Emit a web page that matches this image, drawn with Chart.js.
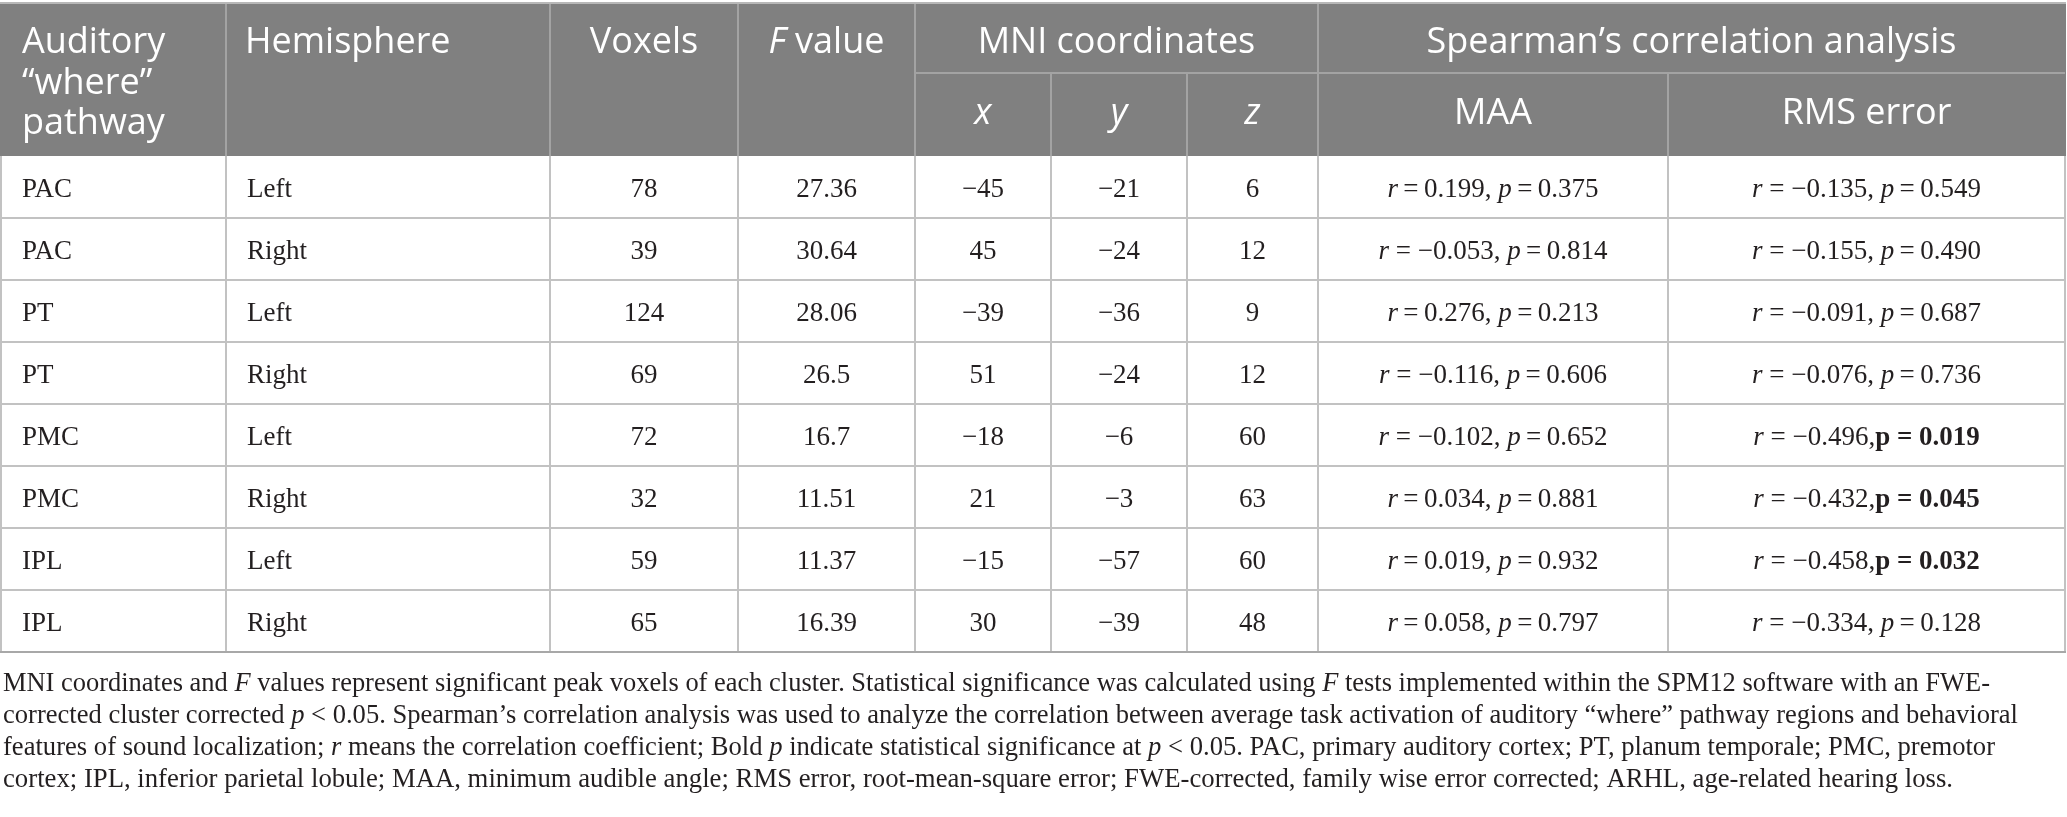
<!DOCTYPE html>
<html>
<head>
<meta charset="utf-8">
<script src="https://cdn.jsdelivr.net/npm/chart.js@4.4.1/dist/chart.umd.min.js"></script>
<style>
  html, body { margin: 0; background: #fff; }
  #wrap { width: 2067px; height: 817px; }
</style>
</head>
<body>
<div id="wrap"><canvas id="tbl"></canvas></div>
<script>
// table data
const regions = ['PAC', 'PAC', 'PT', 'PT', 'PMC', 'PMC', 'IPL', 'IPL']
const hemispheres = ['Left', 'Right', 'Left', 'Right', 'Left', 'Right', 'Left', 'Right']
const voxels = [78, 39, 124, 69, 72, 32, 59, 65]
const fValues = [27.36, 30.64, 28.06, 26.5, 16.7, 11.51, 11.37, 16.39]
const mniX = [-45, 45, -39, 51, -18, 21, -15, 30]
const mniY = [-21, -24, -36, -24, -6, -3, -57, -39]
const mniZ = [6, 12, 9, 12, 60, 63, 60, 48]
const maaR = [0.199, -0.053, 0.276, -0.116, -0.102, 0.034, 0.019, 0.058]
const maaP = [0.375, 0.814, 0.213, 0.606, 0.652, 0.881, 0.932, 0.797]
const rmsR = [-0.135, -0.155, -0.091, -0.076, -0.496, -0.432, -0.458, -0.334]
const rmsP = [0.549, 0.490, 0.687, 0.736, 0.019, 0.045, 0.032, 0.128]

const firstHeader = ['Auditory', '“where”', 'pathway']
const topHeaders = ['Hemisphere', 'Voxels', '*F* value']
const groupHeaders = ['MNI coordinates', 'Spearman’s correlation analysis']
const subHeaders = ['*x*', '*y*', '*z*', 'MAA', 'RMS error']

const notes = [
  'MNI coordinates and *F* values represent significant peak voxels of each cluster. Statistical significance was calculated using *F* tests implemented within the SPM12 software with an FWE-',
  'corrected cluster corrected *p* < 0.05. Spearman’s correlation analysis was used to analyze the correlation between average task activation of auditory “where” pathway regions and behavioral',
  'features of sound localization; *r* means the correlation coefficient; Bold *p* indicate statistical significance at *p* < 0.05. PAC, primary auditory cortex; PT, planum temporale; PMC, premotor',
  'cortex; IPL, inferior parietal lobule; MAA, minimum audible angle; RMS error, root-mean-square error; FWE-corrected, family wise error corrected; ARHL, age-related hearing loss.'
]

// layout (x scale units = px)
const colEdges = [1, 226, 550, 738, 915, 1051, 1187, 1318, 1668, 2065]
const headTop = 4
const subLine = 73
const noteEnds = [1990, 2018, 1995, 1953]

const SANS = '"Open Sans", "Noto Sans", sans-serif'
const SERIF = '"Liberation Serif", "DejaVu Serif", serif'

const minus = v => (v < 0 ? '\u2212' : '') + Math.abs(v)
const fix3 = v => (v < 0 ? '\u2212' : '') + Math.abs(v).toFixed(3)

function parseRuns(s) {
  return s.split('*').map((t, i) => ({ t: t, f: i % 2 ? 'i' : '' })).filter(r => r.t)
}

function corrRuns(r, p) {
  let eq = r < 0 ? ' = ' : '\u2009=\u2009'
  let runs = [{ t: 'r', f: 'i' }, { t: eq + fix3(r) + ',', f: '' }]
  if (p < 0.05) {
    runs.push({ t: 'p = ' + p.toFixed(3), f: 'b' })
  } else {
    runs.push({ t: ' ', f: '' }, { t: 'p', f: 'i' }, { t: '\u2009=\u2009' + p.toFixed(3), f: '' })
  }
  return runs
}

function runFont(f, size, family) {
  return (f === 'i' ? 'italic ' : '') + (f === 'b' ? 'bold ' : '') + size + 'px ' + family
}

function drawRuns(ctx, runs, x, y, align, size, family, targetW) {
  let widths = runs.map(r => { ctx.font = runFont(r.f, size, family); return ctx.measureText(r.t).width })
  let total = widths.reduce((a, b) => a + b, 0)
  let sx = targetW ? targetW / total : 1
  let start = align === 'center' ? x - total * sx / 2 : x
  ctx.save()
  ctx.translate(start, y)
  ctx.scale(sx, 1)
  ctx.textAlign = 'left'
  ctx.textBaseline = 'alphabetic'
  let cx = 0
  runs.forEach((r, i) => {
    ctx.font = runFont(r.f, size, family)
    ctx.fillText(r.t, cx, 0)
    cx += widths[i]
  })
  ctx.restore()
}

function line(ctx, x1, y1, x2, y2, color, w) {
  ctx.strokeStyle = color
  ctx.lineWidth = w
  ctx.beginPath()
  ctx.moveTo(x1, y1)
  ctx.lineTo(x2, y2)
  ctx.stroke()
}

const tablePlugin = {
  id: 'tablePlugin',
  beforeDraw(chart) {
    const ctx = chart.ctx
    const xs = chart.scales.x
    const ys = chart.scales.y
    const area = chart.chartArea
    const X = colEdges.map(v => xs.getPixelForValue(v))
    const band = ys.getPixelForValue(1) - ys.getPixelForValue(0)
    const rowTop = i => ys.getPixelForValue(i) - band / 2

    ctx.save()
    ctx.fillStyle = '#fff'
    ctx.fillRect(0, 0, chart.width, chart.height)

    // header block
    const hTop = headTop
    const hBot = area.top
    ctx.fillStyle = '#808080'
    ctx.fillRect(X[0] - 1, hTop, X[9] - X[0] + 2, hBot - hTop)
    line(ctx, X[0] - 1, hTop - 1, X[9] + 1, hTop - 1, '#b8b8b8', 2)
    const hl = '#a3a3a3'
    ;[1, 2, 3, 4, 7].forEach(i => line(ctx, X[i], hTop, X[i], hBot, hl, 2))
    ;[5, 6, 8].forEach(i => line(ctx, X[i], subLine, X[i], hBot, hl, 2))
    line(ctx, X[4], subLine, X[9], subLine, hl, 2)

    const HS = 36
    ctx.fillStyle = '#fff'
    firstHeader.forEach((t, k) => drawRuns(ctx, parseRuns(t), X[0] + 21, 53 + k * 40.5, 'left', HS, SANS))
    drawRuns(ctx, parseRuns(topHeaders[0]), X[1] + 19, 53, 'left', HS, SANS)
    drawRuns(ctx, parseRuns(topHeaders[1]), (X[2] + X[3]) / 2, 53, 'center', HS, SANS)
    drawRuns(ctx, parseRuns(topHeaders[2]), (X[3] + X[4]) / 2, 53, 'center', HS, SANS)
    drawRuns(ctx, parseRuns(groupHeaders[0]), (X[4] + X[7]) / 2, 53, 'center', HS, SANS)
    drawRuns(ctx, parseRuns(groupHeaders[1]), (X[7] + X[9]) / 2, 53, 'center', HS, SANS)
    subHeaders.forEach((t, k) => {
      drawRuns(ctx, parseRuns(t), (X[4 + k] + X[5 + k]) / 2, 124, 'center', HS, SANS)
    })

    // body grid
    const gl = '#c2c2c2'
    for (let i = 1; i < regions.length; i++) line(ctx, X[0], rowTop(i), X[9], rowTop(i), gl, 2)
    X.forEach(x => line(ctx, x, area.top, x, area.bottom, gl, 2))
    line(ctx, X[0] - 1, area.bottom, X[9] + 1, area.bottom, '#a8a8a8', 2)

    // body text
    ctx.fillStyle = '#231f20'
    regions.forEach((reg, i) => {
      const y = ys.getPixelForValue(i) + 10
      const cells = [
        [{ t: reg, f: '' }],
        [{ t: hemispheres[i], f: '' }],
        [{ t: String(voxels[i]), f: '' }],
        [{ t: String(fValues[i]), f: '' }],
        [{ t: minus(mniX[i]), f: '' }],
        [{ t: minus(mniY[i]), f: '' }],
        [{ t: minus(mniZ[i]), f: '' }],
        corrRuns(maaR[i], maaP[i]),
        corrRuns(rmsR[i], rmsP[i])
      ]
      cells.forEach((runs, c) => {
        if (c < 2) drawRuns(ctx, runs, X[c] + 21, y, 'left', 27, SERIF)
        else drawRuns(ctx, runs, (X[c] + X[c + 1]) / 2, y, 'center', 27, SERIF)
      })
    })

    // footnote
    notes.forEach((t, k) => {
      drawRuns(ctx, parseRuns(t), 3, area.bottom + 39 + k * 32, 'left', 27, SERIF, noteEnds[k] - 3)
    })
    ctx.restore()
  }
}

new Chart(document.getElementById('tbl'), {
  type: 'bar',
  data: {
    labels: regions.map((r, i) => r + ' ' + hemispheres[i]),
    datasets: []
  },
  options: {
    responsive: true,
    maintainAspectRatio: false,
    animation: false,
    indexAxis: 'y',
    layout: { padding: { top: 156, bottom: 165, left: 0, right: 0 } },
    plugins: { legend: { display: false }, tooltip: { enabled: false } },
    scales: {
      x: { type: 'linear', min: 0, max: 2067, display: false },
      y: { type: 'category', offset: true, display: false }
    }
  },
  plugins: [tablePlugin]
})
</script>
</body>
</html>
